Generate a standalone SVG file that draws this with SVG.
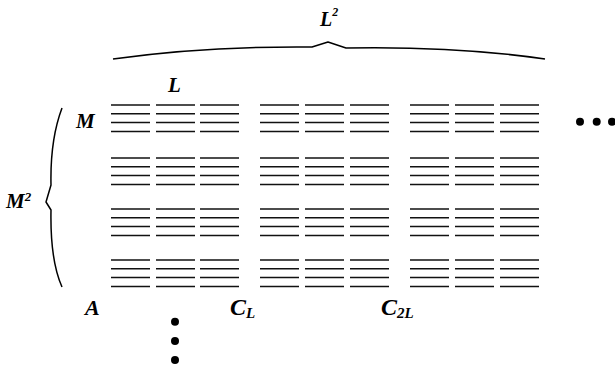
<svg xmlns="http://www.w3.org/2000/svg" xmlns:xlink="http://www.w3.org/1999/xlink" width="615" height="365" viewBox="0 0 615 365">
<style>
.lbl{font-family:"Liberation Serif","Times New Roman",serif;font-weight:bold;font-style:italic;fill:#000}
.ln{stroke:#111;stroke-width:1.5;fill:none}
.br{stroke:#000;stroke-width:1.5;fill:none;stroke-linejoin:round}
.dot{fill:#000}
</style>
<defs>
<g id="cell">
<line class="ln" x1="0" y1="0" x2="39" y2="0"/>
<line class="ln" x1="0" y1="8.8" x2="39" y2="8.8"/>
<line class="ln" x1="0" y1="17.6" x2="39" y2="17.6"/>
<line class="ln" x1="0" y1="26.4" x2="39" y2="26.4"/>
</g>
<g id="col">
<use xlink:href="#cell" y="105"/>
<use xlink:href="#cell" y="158"/>
<use xlink:href="#cell" y="209"/>
<use xlink:href="#cell" y="260"/>
</g>
</defs>
<rect width="615" height="365" fill="#fff"/>
<g id="grid">
<use xlink:href="#col" x="111"/>
<use xlink:href="#col" x="156"/>
<use xlink:href="#col" x="200"/>
<use xlink:href="#col" x="260"/>
<use xlink:href="#col" x="305"/>
<use xlink:href="#col" x="350"/>
<use xlink:href="#col" x="410"/>
<use xlink:href="#col" x="455"/>
<use xlink:href="#col" x="500"/>
</g>
<g id="braces">
<path class="br" d="M113,59 Q205,46 312,47 L328,42 L346,48 Q455,46 545,59"/>
<path class="br" d="M62,108 Q50,140 51,185 L46,202 L51,210 Q50,260 62,287"/>
</g>
<g id="dots">
<circle class="dot" cx="580" cy="121.7" r="4"/>
<circle class="dot" cx="596.7" cy="121.7" r="4"/>
<circle class="dot" cx="612" cy="121.7" r="4"/>
<circle class="dot" cx="175" cy="321.7" r="4"/>
<circle class="dot" cx="175" cy="341" r="4"/>
<circle class="dot" cx="175" cy="360" r="4"/>
</g>
<g id="labels">
<text class="lbl" x="320" y="26" font-size="20">L<tspan font-size="12" dy="-10">2</tspan></text>
<text class="lbl" x="168" y="92" font-size="21">L</text>
<text class="lbl" x="76" y="128" font-size="21">M</text>
<text class="lbl" x="6" y="208" font-size="21">M<tspan font-size="13" dy="-7">2</tspan></text>
<text class="lbl" x="85" y="315" font-size="22">A</text>
<text class="lbl" x="230" y="315" font-size="24">C<tspan font-size="15" dy="3">L</tspan></text>
<text class="lbl" x="381" y="315" font-size="24">C<tspan font-size="15" dy="3">2L</tspan></text>
</g>
</svg>
